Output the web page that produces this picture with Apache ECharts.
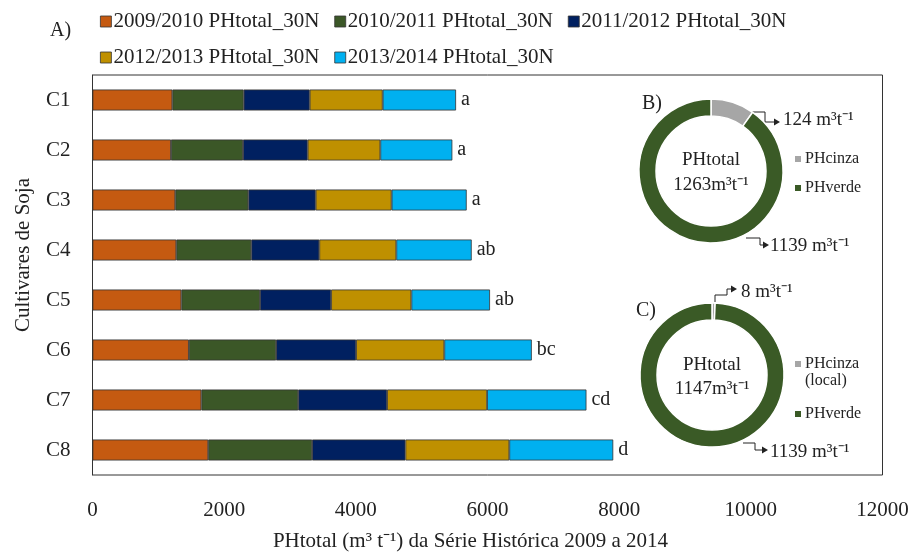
<!DOCTYPE html>
<html>
<head>
<meta charset="utf-8">
<title>PHtotal cultivares de soja</title>
<script src="https://cdn.jsdelivr.net/npm/echarts@6/dist/echarts.min.js"></script>
<style>
html, body { margin: 0; padding: 0; background: #fff; }
#grafico { width: 914px; height: 552px; }
</style>
</head>
<body>
<div id="grafico"></div>
<script>
// dados (m3 t-1)
var cultivares = ['C1', 'C2', 'C3', 'C4', 'C5', 'C6', 'C7', 'C8'];
var safra0910 = [1213, 1192, 1258, 1273, 1350, 1464, 1654, 1758];
var safra1011 = [1083, 1094, 1109, 1139, 1194, 1325, 1471, 1578];
var safra1112 = [1003, 982, 1023, 1033, 1081, 1215, 1350, 1417];
var safra1213 = [1109, 1104, 1154, 1170, 1219, 1340, 1519, 1578];
var safra1314 = [1114, 1094, 1140, 1145, 1194, 1329, 1509, 1579];
var letras = ['a', 'a', 'a', 'ab', 'ab', 'bc', 'cd', 'd'];
var nomesSafra = ['2009/2010 PHtotal_30N', '2010/2011 PHtotal_30N', '2011/2012 PHtotal_30N',
	'2012/2013 PHtotal_30N', '2013/2014 PHtotal_30N'];
var coresSafra = ['#C55A11', '#3B5727', '#002060', '#BF9000', '#00B0F0'];

// donuts B) e C): [cinza, verde]
var pegadaB = [124, 1139];
var pegadaC = [8, 1139];
var ticksX = [0, 2000, 4000, 6000, 8000, 10000, 12000];

var FONTE = '"Liberation Serif", "Times New Roman", serif';
var UN = ' m\u00b3t\u207b\u00b9';
var verde = '#3A5A26', cinza = '#A6A6A6', traco = '#222';

var myChart = echarts.init(document.getElementById('grafico'));

var series = [];
var valores = [safra0910, safra1011, safra1112, safra1213, safra1314];
for(var i = 0; i < valores.length; i++){
	var s = {
		name: nomesSafra[i],
		type: 'bar',
		stack: 'total',
		barWidth: 21,
		data: valores[i],
		itemStyle: { color: coresSafra[i], borderColor: '#333', borderWidth: 0.8 },
		emphasis: { disabled: true }
	};
	if(i == valores.length - 1){
		s.label = {
			show: true,
			position: 'right',
			distance: 5,
			fontFamily: FONTE,
			fontSize: 20,
			color: traco,
			formatter: function(p){ return letras[p.dataIndex]; }
		};
	}
	series.push(s);
}

function donut(centro, dados, nomeCinza){
	return {
		type: 'pie',
		center: centro,
		radius: [55, 72],
		startAngle: 90,
		clockwise: true,
		silent: true,
		label: { show: false },
		labelLine: { show: false },
		emphasis: { disabled: true },
		itemStyle: { borderColor: '#fff', borderWidth: 1.5 },
		data: [
			{ name: nomeCinza, value: dados[0], itemStyle: { color: cinza } },
			{ name: 'PHverde', value: dados[1], itemStyle: { color: verde } }
		]
	};
}
series.push(donut([711, 171], pegadaB, 'PHcinza'));
series.push(donut([712, 375], pegadaC, 'PHcinza (local)'));

// setas das anotacoes dos donuts
function seta(pontos){
	var ult = pontos[pontos.length - 1];
	return [{
		type: 'polyline',
		shape: { points: pontos },
		style: { stroke: traco, lineWidth: 1, fill: null }
	}, {
		type: 'polygon',
		shape: { points: [[ult[0] + 6, ult[1]], [ult[0], ult[1] - 3.5], [ult[0], ult[1] + 3.5]] },
		style: { fill: traco }
	}];
}
function texto(x, y, t, tam, alinhar){
	return {
		type: 'text', x: x, y: y,
		style: { text: t, font: tam + 'px ' + FONTE, fill: traco, align: alinhar || 'left', verticalAlign: 'middle' }
	};
}

var graficos = [
	texto(50, 31, 'A)', 20),
	texto(642, 104, 'B)', 20),
	texto(636, 311, 'C)', 20),
	texto(711, 160, 'PHtotal', 19, 'center'),
	texto(711, 185, (pegadaB[0] + pegadaB[1]) + 'm\u00b3t\u207b\u00b9', 19, 'center'),
	texto(712, 365, 'PHtotal', 19, 'center'),
	texto(712, 389, (pegadaC[0] + pegadaC[1]) + 'm\u00b3t\u207b\u00b9', 19, 'center'),
	texto(783, 120, pegadaB[0] + UN, 19),
	texto(770, 246, pegadaB[1] + UN, 19),
	texto(741, 292, pegadaC[0] + UN, 19),
	texto(770, 452, pegadaC[1] + UN, 19),
	texto(805, 381, '(local)', 16)
];
graficos = graficos
	.concat(seta([[752, 112], [765, 112], [765, 122], [774, 122]]))
	.concat(seta([[746, 238], [760, 238], [760, 245], [763, 245]]))
	.concat(seta([[715, 302], [715, 295], [727, 295], [727, 289], [731, 289]]))
	.concat(seta([[743, 443], [755, 443], [755, 450], [762, 450]]));

var option = {
	animation: false,
	textStyle: { fontFamily: FONTE },
	legend: [{
		data: nomesSafra,
		left: 95,
		top: 6,
		width: 700,
		itemWidth: 11,
		itemHeight: 11,
		itemGap: 15,
		icon: 'rect',
		selectedMode: false,
		itemStyle: { borderColor: '#333', borderWidth: 0.8 },
		textStyle: { fontFamily: FONTE, fontSize: 21, color: traco, lineHeight: 13, padding: [0, 0, 0, -3] }
	}, {
		data: ['PHcinza', 'PHverde'],
		orient: 'vertical',
		left: 788,
		top: 145,
		itemWidth: 8,
		itemHeight: 8,
		itemGap: 11,
		icon: 'rect',
		selectedMode: false,
		textStyle: { fontFamily: FONTE, fontSize: 16, color: traco, lineHeight: 18, padding: [0, 0, 0, -2] }
	}, {
		data: ['PHcinza (local)', 'PHverde'],
		orient: 'vertical',
		left: 788,
		top: 350,
		itemWidth: 8,
		itemHeight: 8,
		itemGap: 32,
		icon: 'rect',
		selectedMode: false,
		formatter: function(n){ return n == 'PHcinza (local)' ? 'PHcinza' : n; },
		textStyle: { fontFamily: FONTE, fontSize: 16, color: traco, lineHeight: 18, padding: [0, 0, 0, -2] }
	}],
	grid: {
		left: 92.5,
		right: 31.5,
		top: 75,
		bottom: 77,
		outerBoundsMode: 'none',
		containLabel: false,
		show: true,
		borderColor: '#333',
		borderWidth: 1
	},
	xAxis: {
		type: 'value',
		min: ticksX[0],
		max: ticksX[ticksX.length - 1],
		interval: ticksX[1] - ticksX[0],
		name: 'PHtotal (m\u00b3 t\u207b\u00b9) da S\u00e9rie Hist\u00f3rica 2009 a 2014',
		nameLocation: 'middle',
		nameGap: 56,
		nameTextStyle: { fontFamily: FONTE, fontSize: 21, color: traco, padding: [0, 34, 0, 0] },
		axisLine: { lineStyle: { color: '#333' } },
		axisTick: { inside: true, length: 6, lineStyle: { color: '#333' } },
		axisLabel: {
			margin: 25, fontFamily: FONTE, fontSize: 21, color: traco,
			formatter: function(v){ return String(v); }
		},
		splitLine: { show: false }
	},
	yAxis: {
		type: 'category',
		inverse: true,
		data: cultivares,
		name: 'Cultivares de Soja',
		nameLocation: 'middle',
		nameGap: 59,
		nameTextStyle: { fontFamily: FONTE, fontSize: 21, color: traco, padding: [0, 0, 0, 40] },
		axisLine: { lineStyle: { color: '#333' } },
		axisTick: { inside: true, length: 7, lineStyle: { color: '#333' } },
		axisLabel: { margin: 22, fontFamily: FONTE, fontSize: 21, color: traco }
	},
	graphic: graficos,
	series: series
};
myChart.setOption(option, true);
</script>
</body>
</html>
